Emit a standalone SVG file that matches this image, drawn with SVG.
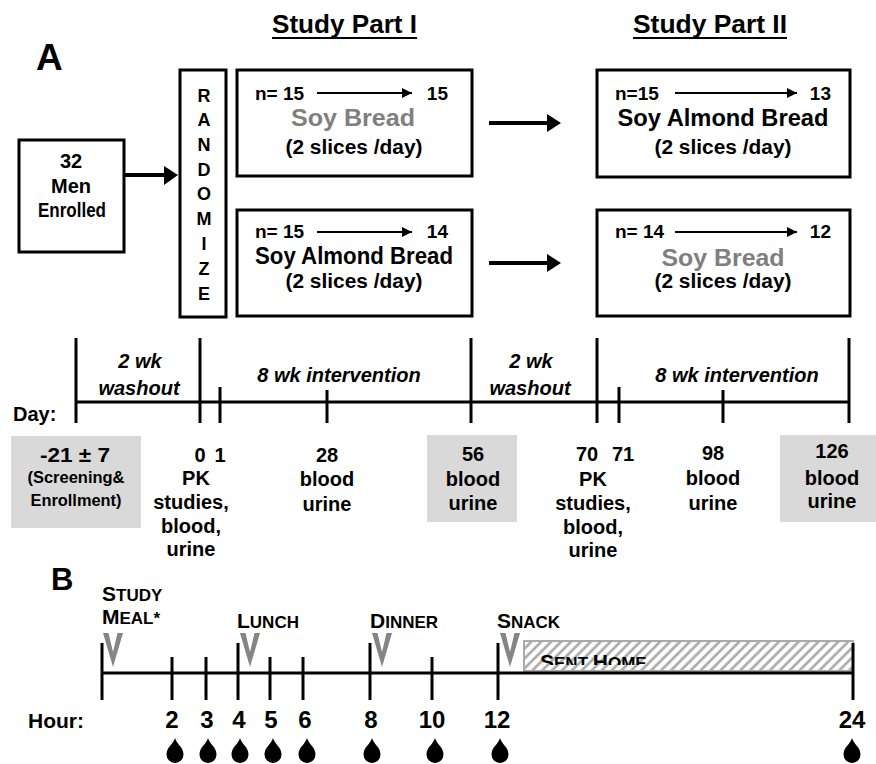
<svg xmlns="http://www.w3.org/2000/svg" width="876" height="764" viewBox="0 0 876 764">
<style>
text{font-family:"Liberation Sans",Arial,sans-serif;font-weight:bold;fill:#000}
.box{fill:#fff;stroke:#000;stroke-width:3}
.ln{stroke:#000;stroke-width:3;fill:none}
.thin{stroke:#000;stroke-width:2;fill:none}
.c{text-anchor:middle}
.e{text-anchor:end}
.gray{fill:#7f7f7f}
.shade{fill:#d9d9d9}
.it{font-style:italic;font-size:20px}
.n{font-size:19px}
.bread{font-size:23px}
.sl{font-size:20px}
.day{font-size:20px}
.hr{font-size:24px}
.chev{fill:#858585}
.big{font-size:21px}
.sm{font-size:17px}
</style>
<defs>
<marker id="ah" viewBox="0 0 10 10" refX="10" refY="5" markerWidth="6" markerHeight="5" markerUnits="strokeWidth" orient="auto">
<path d="M0,0 L10,5 L0,10 Z" fill="#000"/>
</marker>
<pattern id="hatch" width="7" height="7" patternUnits="userSpaceOnUse" patternTransform="rotate(45)">
<rect width="7" height="7" fill="#fff"/>
<line x1="3.5" y1="0" x2="3.5" y2="7" stroke="#a6a6a6" stroke-width="2.5"/>
</pattern>
<clipPath id="clipSent"><rect x="520" y="640" width="340" height="25"/></clipPath>
<path id="drop" d="M0,0 C1.5,6 8.5,9 8.5,16.5 A8.5,8.5 0 0 1 -8.5,16.5 C-8.5,9 -1.5,6 0,0 Z" fill="#000"/>
<path id="chevron" d="M-10,0 L-4.5,0 L0,19 L4.5,0 L10,0 L0,34 Z"/>
</defs>

<!-- Headings -->
<g id="labelA"><text x="36" y="70" font-size="37">A</text></g>
<g id="headingPart1">
<text x="272" y="33" font-size="25" textLength="145" lengthAdjust="spacingAndGlyphs">Study Part I</text>
<line x1="272" y1="38" x2="417" y2="38" class="thin"/>
</g>
<g id="headingPart2">
<text x="633" y="33" font-size="25" textLength="154" lengthAdjust="spacingAndGlyphs">Study Part II</text>
<line x1="633" y1="38" x2="787" y2="38" class="thin"/>
</g>

<!-- Nodes -->
<g id="enrolled">
<rect x="19" y="140" width="105" height="112" class="box"/>
<text x="71" y="168" class="c" font-size="20">32</text>
<text x="71" y="193" class="c" font-size="20">Men</text>
<text x="72" y="217" class="c" font-size="20" textLength="68" lengthAdjust="spacingAndGlyphs">Enrolled</text>
</g>
<g id="randomize">
<rect x="180" y="70" width="46" height="247" class="box"/>
<g font-size="18">
<text x="204" y="102" class="c">R</text>
<text x="204" y="126" class="c">A</text>
<text x="204" y="151" class="c">N</text>
<text x="204" y="176" class="c">D</text>
<text x="204" y="200" class="c">O</text>
<text x="204" y="225" class="c">M</text>
<text x="204" y="250" class="c">I</text>
<text x="204" y="275" class="c">Z</text>
<text x="204" y="300" class="c">E</text>
</g>
</g>
<g id="part1SoyBread">
<rect x="237" y="70" width="235" height="106" class="box"/>
<text x="255" y="100" class="n">n= 15</text>
<line x1="317" y1="93" x2="412" y2="93" class="thin" marker-end="url(#ah)"/>
<text x="448" y="100" class="n e">15</text>
<text x="353" y="126" class="bread c gray" textLength="124" lengthAdjust="spacingAndGlyphs">Soy Bread</text>
<text x="354" y="154" class="sl c" textLength="137" lengthAdjust="spacingAndGlyphs">(2 slices /day)</text>
</g>
<g id="part1SoyAlmond">
<rect x="237" y="210" width="235" height="106" class="box"/>
<text x="255" y="238" class="n">n= 15</text>
<line x1="317" y1="232" x2="412" y2="232" class="thin" marker-end="url(#ah)"/>
<text x="448" y="238" class="n e">14</text>
<text x="354" y="264" class="bread c" textLength="198" lengthAdjust="spacingAndGlyphs">Soy Almond Bread</text>
<text x="354" y="288" class="sl c" textLength="137" lengthAdjust="spacingAndGlyphs">(2 slices /day)</text>
</g>
<g id="part2SoyAlmond">
<rect x="597" y="70" width="253" height="107" class="box"/>
<text x="615" y="100" class="n">n=15</text>
<line x1="675" y1="93" x2="797" y2="93" class="thin" marker-end="url(#ah)"/>
<text x="831" y="100" class="n e">13</text>
<text x="723" y="126" class="bread c" textLength="211" lengthAdjust="spacingAndGlyphs">Soy Almond Bread</text>
<text x="723" y="154" class="sl c" textLength="137" lengthAdjust="spacingAndGlyphs">(2 slices /day)</text>
</g>
<g id="part2SoyBread">
<rect x="597" y="210" width="253" height="106" class="box"/>
<text x="615" y="238" class="n">n= 14</text>
<line x1="675" y1="232" x2="797" y2="232" class="thin" marker-end="url(#ah)"/>
<text x="831" y="238" class="n e">12</text>
<text x="723" y="266" class="bread c gray" textLength="123" lengthAdjust="spacingAndGlyphs">Soy Bread</text>
<text x="723" y="288" class="sl c" textLength="137" lengthAdjust="spacingAndGlyphs">(2 slices /day)</text>
</g>

<!-- Connectors -->
<g id="connectors">
<line x1="124" y1="175" x2="166" y2="175" stroke="#000" stroke-width="4"/>
<path d="M164,166 L178,175 L164,185 Z" fill="#000"/>
<line x1="489" y1="123" x2="549" y2="123" stroke="#000" stroke-width="4"/>
<path d="M547,114 L561,123 L547,132 Z" fill="#000"/>
<line x1="489" y1="263" x2="549" y2="263" stroke="#000" stroke-width="4"/>
<path d="M547,254 L561,263 L547,272 Z" fill="#000"/>
</g>

<!-- Timeline A -->
<g id="timelineA">
<line x1="76" y1="402" x2="849" y2="402" class="ln"/>
<line x1="76" y1="338" x2="76" y2="423" class="ln"/>
<line x1="200" y1="338" x2="200" y2="423" class="ln"/>
<line x1="220" y1="387" x2="220" y2="423" class="ln"/>
<line x1="327" y1="390" x2="327" y2="423" class="ln"/>
<line x1="471" y1="338" x2="471" y2="423" class="ln"/>
<line x1="597" y1="338" x2="597" y2="423" class="ln"/>
<line x1="619" y1="387" x2="619" y2="423" class="ln"/>
<line x1="723" y1="390" x2="723" y2="423" class="ln"/>
<line x1="849" y1="338" x2="849" y2="423" class="ln"/>
<text x="140" y="368" class="it c">2 wk</text>
<text x="139" y="395" class="it c">washout</text>
<text x="339" y="382" class="it c">8 wk intervention</text>
<text x="531" y="368" class="it c">2 wk</text>
<text x="530" y="395" class="it c">washout</text>
<text x="737" y="382" class="it c">8 wk intervention</text>
<text x="13" y="421" class="day">Day:</text>
</g>
<g id="day-21">
<rect x="11" y="436" width="130" height="92" class="shade"/>
<text x="75" y="462" class="day c" textLength="70" lengthAdjust="spacingAndGlyphs">-21 ± 7</text>
<text x="76" y="483" class="c" font-size="16" textLength="97" lengthAdjust="spacingAndGlyphs">(Screening&amp;</text>
<text x="76" y="506" class="c" font-size="16" textLength="91" lengthAdjust="spacingAndGlyphs">Enrollment)</text>
</g>
<g id="day0">
<text x="200" y="462" class="day c">0</text>
<text x="220" y="462" class="day c">1</text>
<text x="196" y="485" class="day c">PK</text>
<text x="191" y="509" class="day c">studies,</text>
<text x="191" y="533" class="day c">blood,</text>
<text x="191" y="556" class="day c">urine</text>
</g>
<g id="day28">
<text x="327" y="462" class="day c">28</text>
<text x="327" y="486" class="day c">blood</text>
<text x="327" y="511" class="day c">urine</text>
</g>
<g id="day56">
<rect x="427" y="435" width="90" height="87" class="shade"/>
<text x="473" y="461" class="day c">56</text>
<text x="473" y="486" class="day c">blood</text>
<text x="473" y="510" class="day c">urine</text>
</g>
<g id="day70">
<text x="587" y="461" class="day c">70</text>
<text x="623" y="461" class="day c">71</text>
<text x="593" y="486" class="day c">PK</text>
<text x="593" y="510" class="day c">studies,</text>
<text x="593" y="534" class="day c">blood,</text>
<text x="593" y="557" class="day c">urine</text>
</g>
<g id="day98">
<text x="713" y="460" class="day c">98</text>
<text x="713" y="485" class="day c">blood</text>
<text x="713" y="510" class="day c">urine</text>
</g>
<g id="day126">
<rect x="780" y="435" width="96" height="87" class="shade"/>
<text x="832" y="458" class="day c">126</text>
<text x="832" y="485" class="day c">blood</text>
<text x="832" y="508" class="day c">urine</text>
</g>

<!-- Section B -->
<g id="labelB"><text x="51" y="590" font-size="31">B</text></g>
<g id="timelineB">
<rect x="524" y="641" width="329" height="30" fill="url(#hatch)" stroke="#aaa" stroke-width="2"/>
<text x="540" y="669" clip-path="url(#clipSent)" fill="#222"><tspan class="big">S</tspan><tspan class="sm">ENT </tspan><tspan class="big">H</tspan><tspan class="sm">OME</tspan></text>
<line x1="102" y1="673" x2="853" y2="673" class="ln"/>
<line x1="102" y1="643" x2="102" y2="700" class="ln"/>
<line x1="172" y1="657" x2="172" y2="700" class="ln"/>
<line x1="206" y1="657" x2="206" y2="700" class="ln"/>
<line x1="238" y1="643" x2="238" y2="700" class="ln"/>
<line x1="270" y1="657" x2="270" y2="700" class="ln"/>
<line x1="303" y1="657" x2="303" y2="700" class="ln"/>
<line x1="370" y1="643" x2="370" y2="700" class="ln"/>
<line x1="432" y1="657" x2="432" y2="700" class="ln"/>
<line x1="498" y1="643" x2="498" y2="700" class="ln"/>
<line x1="853" y1="643" x2="853" y2="700" class="ln"/>
<text x="28" y="728" font-size="21">Hour:</text>
<text x="172" y="728" class="hr c">2</text>
<text x="207" y="728" class="hr c">3</text>
<text x="239" y="728" class="hr c">4</text>
<text x="271" y="728" class="hr c">5</text>
<text x="305" y="728" class="hr c">6</text>
<text x="371" y="728" class="hr c">8</text>
<text x="432" y="728" class="hr c">10</text>
<text x="497" y="728" class="hr c">12</text>
<text x="852" y="728" class="hr c">24</text>
<use href="#drop" x="175" y="738"/>
<use href="#drop" x="208" y="738"/>
<use href="#drop" x="240" y="738"/>
<use href="#drop" x="273" y="738"/>
<use href="#drop" x="307" y="738"/>
<use href="#drop" x="372" y="738"/>
<use href="#drop" x="435" y="738"/>
<use href="#drop" x="500" y="738"/>
<use href="#drop" x="852" y="738"/>
</g>
<g id="studyMeal">
<text x="102" y="601"><tspan class="big">S</tspan><tspan class="sm">TUDY</tspan></text>
<text x="102" y="624"><tspan class="big">M</tspan><tspan class="sm">EAL*</tspan></text>
<use href="#chevron" x="113" y="633" class="chev"/>
</g>
<g id="lunch">
<text x="237" y="628"><tspan class="big">L</tspan><tspan class="sm">UNCH</tspan></text>
<use href="#chevron" x="250" y="633" class="chev"/>
</g>
<g id="dinner">
<text x="370" y="628"><tspan class="big">D</tspan><tspan class="sm">INNER</tspan></text>
<use href="#chevron" x="382" y="633" class="chev"/>
</g>
<g id="snack">
<text x="497" y="628"><tspan class="big">S</tspan><tspan class="sm">NACK</tspan></text>
<use href="#chevron" x="510" y="633" class="chev"/>
</g>
</svg>
